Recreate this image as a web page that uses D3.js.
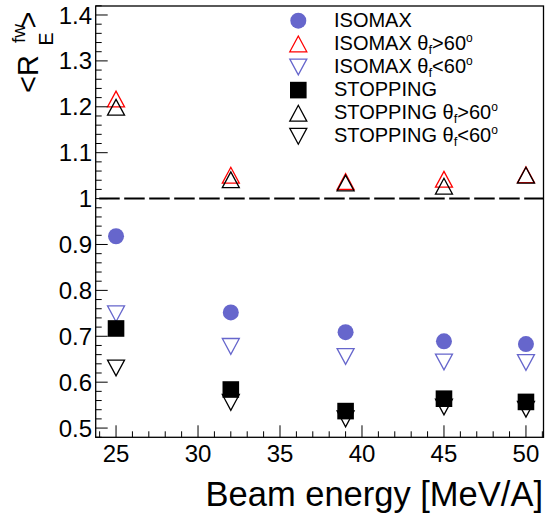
<!DOCTYPE html>
<html>
<head>
<meta charset="utf-8">
<script src="https://cdn.jsdelivr.net/npm/d3@7"></script>
<style>
  html, body { margin: 0; padding: 0; background: #fff; }
  svg { display: block; font-family: "Liberation Sans", Arial, Helvetica, sans-serif; }
</style>
</head>
<body>
<svg id="chart" width="545" height="520"></svg>
<script>
// ---- data ----
const energies = [25, 32, 39, 45, 50];
const isomax       = [0.918, 0.752, 0.709, 0.689, 0.683];
const isomaxGt60   = [1.217, 1.051, 1.037, 1.042, 1.052];
const isomaxLt60   = [0.749, 0.678, 0.656, 0.644, 0.643];
const stopping     = [0.717, 0.584, 0.537, 0.564, 0.557];
const stoppingGt60 = [1.199, 1.041, 1.034, 1.027, 1.051];
const stoppingLt60 = [0.631, 0.556, 0.520, 0.546, 0.541];
const xTickValues = [25, 30, 35, 40, 45, 50];
const yTickValues = [0.5, 0.6, 0.7, 0.8, 0.9, 1.0, 1.1, 1.2, 1.3, 1.4];
const yTickLabels = ["0.5", "0.6", "0.7", "0.8", "0.9", "1", "1.1", "1.2", "1.3", "1.4"];
const legendNames = ["ISOMAX", "ISOMAX", "ISOMAX", "STOPPING", "STOPPING", "STOPPING"];
const legendConds = ["", ">60", "<60", "", ">60", "<60"];

const BLUE = "#6666cc", RED = "#ff0000", BLACK = "#000000";

const series = [
  { values: isomax,       marker: "circle",  color: BLUE },
  { values: isomaxGt60,   marker: "up",      color: RED },
  { values: isomaxLt60,   marker: "down",    color: BLUE },
  { values: stopping,     marker: "square",  color: BLACK },
  { values: stoppingGt60, marker: "up",      color: BLACK },
  { values: stoppingLt60, marker: "down",    color: BLACK }
];

const svg = d3.select("#chart");
const L = 95.7, R = 543.5, T = 6, B = 437.3;

const x = d3.scaleLinear().domain([23.76, 51.07]).range([L, R]);
const y = d3.scaleLinear().domain([0.4799, 1.4196]).range([B, T]);

// markers
function drawMarker(g, kind, cx, cy, color) {
  if (kind === "circle") {
    g.append("circle").attr("cx", cx).attr("cy", cy).attr("r", 8).attr("fill", color);
  } else if (kind === "square") {
    g.append("rect").attr("x", cx - 8.3).attr("y", cy - 8.3).attr("width", 16.6).attr("height", 16.6).attr("fill", color);
  } else if (kind === "up") {
    g.append("path").attr("d", `M${cx - 8.5},${cy + 7.9}L${cx + 8.5},${cy + 7.9}L${cx},${cy - 7.9}Z`)
      .attr("fill", "none").attr("stroke", color).attr("stroke-width", 1.3);
  } else if (kind === "down") {
    g.append("path").attr("d", `M${cx - 8.5},${cy - 7.9}L${cx + 8.5},${cy - 7.9}L${cx},${cy + 7.9}Z`)
      .attr("fill", "none").attr("stroke", color).attr("stroke-width", 1.3);
  }
}

// dashed reference line at 1
svg.append("line")
  .attr("x1", L).attr("x2", R).attr("y1", y(1)).attr("y2", y(1))
  .attr("stroke", "#000").attr("stroke-width", 2)
  .attr("stroke-dasharray", "20.5 4.5").attr("stroke-dashoffset", 21.5);

// data points
const gData = svg.append("g");
series.forEach(s => {
  s.values.forEach((v, i) => drawMarker(gData, s.marker, x(energies[i]), y(v), s.color));
});

// axes (ticks inside, ROOT style)
const gAx = svg.append("g").attr("stroke", "#000").attr("stroke-width", 1);
d3.range(24, 52, 1).forEach(v => {
  if (x(v) < L || x(v) > R) return;
  const major = v % 5 === 0;
  gAx.append("line").attr("x1", x(v)).attr("x2", x(v)).attr("y1", B).attr("y2", B - (major ? 12 : 6));
});
d3.range(24, 72, 1).map(k => k * 0.02).forEach(v => {
  const py = y(v);
  if (py < T - 0.5 || py > B + 0.5) return;
  const major = Math.abs(Math.round(v * 10) - v * 10) < 1e-6;
  gAx.append("line").attr("x1", L).attr("x2", L + (major ? 12 : 6)).attr("y1", py).attr("y2", py);
});

// frame
svg.append("rect").attr("x", L).attr("y", T).attr("width", R - L).attr("height", B - T)
  .attr("fill", "none").attr("stroke", "#000").attr("stroke-width", 1.3);

// tick labels
svg.append("g").selectAll("text").data(xTickValues).join("text")
  .attr("x", d => x(d)).attr("y", 462).attr("text-anchor", "middle")
  .attr("font-size", 24).text(d => d);
svg.append("g").selectAll("text").data(yTickValues).join("text")
  .attr("x", 92).attr("y", d => y(d) + 8.6).attr("text-anchor", "end")
  .attr("font-size", 24).text((d, i) => yTickLabels[i]);

// x title
svg.append("text").attr("x", 543).attr("y", 506).attr("text-anchor", "end")
  .attr("font-size", 34.5).text("Beam energy [MeV/A]");

// y title  <R^{fw}_{E}>
const yt = svg.append("g").attr("transform", "translate(38,93) rotate(-90)");
yt.append("text").attr("x", 0).attr("y", 0).attr("font-size", 29).text("<R");
yt.append("text").attr("x", 50).attr("y", -13).attr("font-size", 19).text("fw");
yt.append("text").attr("x", 47.5).attr("y", 15).attr("font-size", 19.5).text("E");
yt.append("text").attr("x", 64.5).attr("y", 0).attr("font-size", 29).text(">");

// legend
const legRowY = [20.7, 43.9, 67.0, 90.1, 113.2, 136.3];
const gLeg = svg.append("g");
series.forEach((s, i) => {
  const cy = legRowY[i];
  drawMarker(gLeg, s.marker, 298.3, cy, s.color);
  const t = gLeg.append("text").attr("x", 334).attr("y", cy + 6).attr("font-size", 20);
  t.append("tspan").text(legendNames[i]);
  if (legendConds[i]) {
    t.append("tspan").text(" \u03b8");
    t.append("tspan").attr("font-size", 13).attr("dy", 4).text("f");
    t.append("tspan").attr("dy", -4).text(legendConds[i]);
    t.append("tspan").attr("font-size", 12).attr("dy", -8).text("o");
  }
});
</script>
</body>
</html>
